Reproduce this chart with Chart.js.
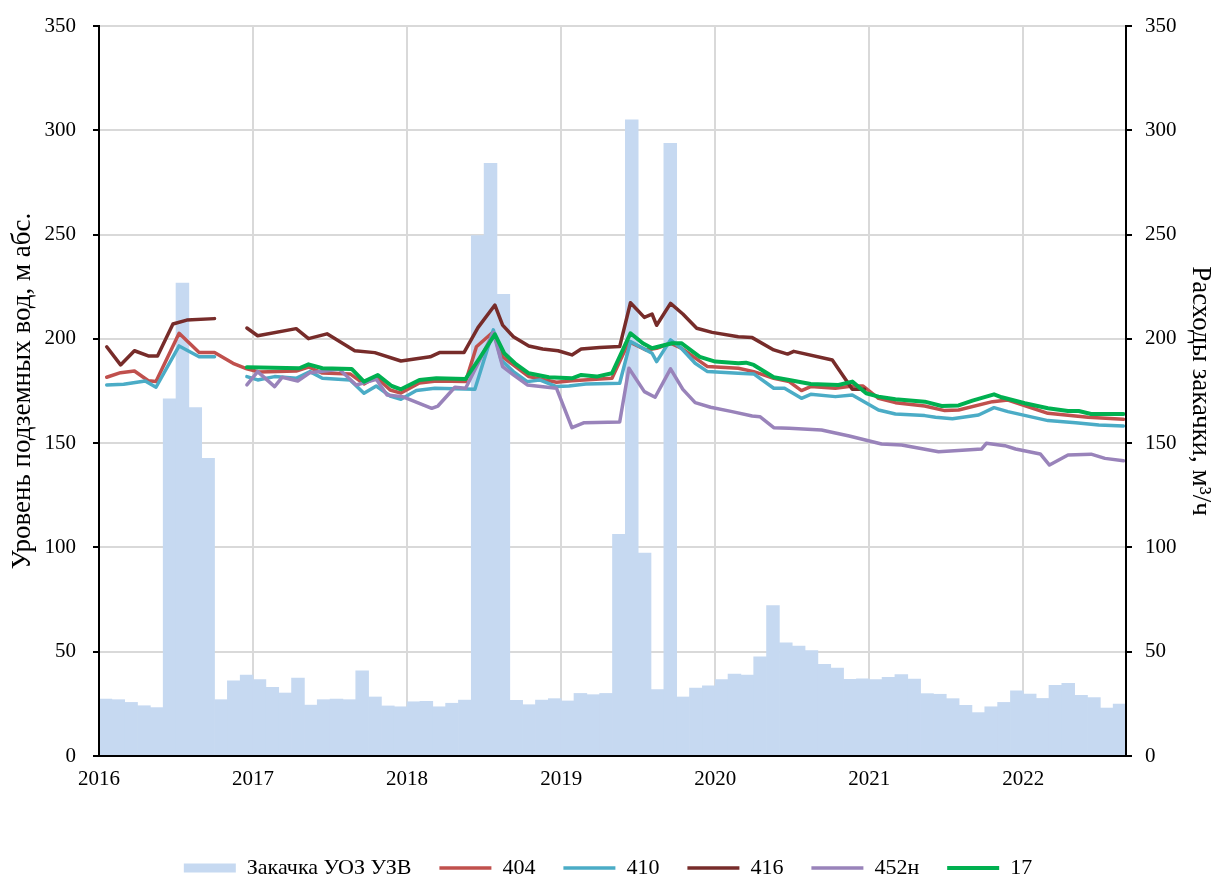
<!DOCTYPE html>
<html>
<head>
<meta charset="utf-8">
<title>Уровень подземных вод и расходы закачки</title>
<script src="https://cdn.jsdelivr.net/npm/chart.js@4/dist/chart.umd.min.js"></script>
<style>
  html, body { margin: 0; padding: 0; background: #ffffff; }
  #wrap { width: 1216px; height: 877px; }
</style>
</head>
<body>
<div id="wrap"><canvas id="chart" width="1216" height="877"></canvas></div>
<script>
// Year ticks on the time axis (decimal years)
const yearTicks = [2016, 2017, 2018, 2019, 2020, 2021, 2022];
const firstYear = 2016;
const monthCount = 80; // Jan 2016 .. Aug 2022

// Monthly injection rate, m3/h (right axis), Jan 2016 .. Aug 2022
const injection = [
  27.3, 27.0, 25.7, 24.1, 23.2, 171.2, 226.8, 167.0, 142.7, 27.0, 36.0, 38.8,
  36.6, 32.9, 30.2, 37.4, 24.4, 27.0, 27.3, 27.0, 40.8, 28.3, 24.0, 23.6,
  26.0, 26.2, 23.6, 25.3, 26.8, 249.5, 284.2, 221.4, 26.7, 24.6, 26.8, 27.5,
  26.4, 30.0, 29.4, 30.0, 106.3, 305.0, 97.3, 31.8, 293.7, 28.3, 32.6, 33.6,
  36.6, 39.3, 38.8, 47.5, 72.1, 54.2, 52.7, 50.5, 44.0, 42.2, 36.8, 37.0,
  36.6, 37.7, 39.0, 36.9, 29.9, 29.6, 27.5, 24.3, 20.8, 23.6, 25.7, 31.3,
  29.7, 27.6, 33.9, 34.8, 29.1, 28.0, 23.0, 24.9
];

// Well 404: measurement dates (decimal years) and levels, m abs.
const t404 = [2016.05, 2016.14, 2016.23, 2016.32, 2016.37, 2016.52, 2016.65, 2016.75, 2016.87, 2016.96,
  2017.04, 2017.28, 2017.36, 2017.45, 2017.63, 2017.72, 2017.80, 2017.89, 2017.96,
  2018.08, 2018.19, 2018.38, 2018.45, 2018.56, 2018.62, 2018.79, 2018.97,
  2019.07, 2019.33, 2019.44, 2019.55, 2019.62, 2019.71, 2019.78, 2019.95,
  2020.15, 2020.25, 2020.38, 2020.48, 2020.56, 2020.62, 2020.78, 2020.89, 2020.96,
  2021.06, 2021.17, 2021.36, 2021.49, 2021.58, 2021.80, 2021.90,
  2022.16, 2022.42, 2022.65];
const v404 = [181.6, 183.8, 184.6, 179.9, 179.5, 202.7, 193.5, 193.5, 188.3, 185.6,
  184.1, 184.6, 186.5, 183.6, 183.2, 178.4, 181.7, 175.5, 174.0,
  178.8, 179.8, 179.5, 196.2, 203.4, 191.4, 181.9, 179.2,
  179.9, 181.1, 198.7, 194.7, 195.5, 197.9, 195.5, 186.7,
  185.9, 184.3, 181.1, 179.5, 175.2, 177.1, 176.3, 177.4, 177.4,
  171.5, 169.4, 167.8, 165.6, 165.9, 169.9, 170.7,
  164.3, 162.4, 161.4];

// Well 410 (null = no measurements)
const t410 = [2016.05, 2016.16, 2016.30, 2016.37, 2016.52, 2016.65, 2016.75, 2016.85, 2016.96,
  2017.03, 2017.14, 2017.28, 2017.37, 2017.45, 2017.63, 2017.72, 2017.80, 2017.89, 2017.96,
  2018.06, 2018.18, 2018.44, 2018.56, 2018.61, 2018.69, 2018.78, 2018.86, 2018.97,
  2019.05, 2019.16, 2019.38, 2019.45, 2019.55, 2019.59, 2019.62, 2019.71, 2019.78, 2019.87, 2019.95,
  2020.15, 2020.25, 2020.38, 2020.45, 2020.56, 2020.62, 2020.78, 2020.89,
  2021.06, 2021.17, 2021.36, 2021.43, 2021.54, 2021.71, 2021.81, 2021.90,
  2022.16, 2022.34, 2022.49, 2022.65];
const v410 = [177.9, 178.2, 179.8, 176.8, 196.6, 191.4, 191.4, null, 181.9,
  180.3, 181.9, 181.1, 184.3, 181.1, 180.3, 173.9, 177.4, 172.6, 171.0,
  175.2, 176.3, 175.8, 204.3, 189.9, 184.3, 179.5, 180.3, 177.1,
  177.4, 178.4, 178.7, 198.7, 194.7, 193.1, 189.1, 199.5, 195.5, 188.3, 184.3,
  183.5, 183.2, 176.3, 176.3, 171.5, 173.4, 172.3, 173.1,
  165.9, 164.0, 163.2, 162.4, 161.7, 163.5, 167.0, 165.1,
  160.8, 159.8, 158.7, 158.2];

// Well 416
const t416 = [2016.05, 2016.14, 2016.23, 2016.32, 2016.38, 2016.48, 2016.57, 2016.75, 2016.85, 2016.96,
  2017.03, 2017.28, 2017.36, 2017.48, 2017.66, 2017.79, 2017.96,
  2018.15, 2018.21, 2018.37, 2018.46, 2018.57, 2018.62, 2018.69, 2018.79, 2018.88, 2018.98,
  2019.07, 2019.13, 2019.25, 2019.38, 2019.45, 2019.54, 2019.59, 2019.62, 2019.71, 2019.79, 2019.88, 2019.98,
  2020.15, 2020.24, 2020.38, 2020.47, 2020.51, 2020.76, 2020.89, 2020.97];
const v416 = [196.2, 187.5, 194.3, 191.8, 191.8, 207.1, 209.0, 209.7, null, 205.2,
  201.5, 204.9, 200.1, 202.4, 194.3, 193.4, 189.4,
  191.4, 193.4, 193.5, 205.4, 216.2, 206.6, 201.0, 196.6, 195.1, 194.3,
  192.3, 195.1, 195.8, 196.3, 217.3, 210.3, 211.9, 206.5, 217.0, 211.9, 205.1, 203.1,
  201.0, 200.6, 194.7, 192.7, 194.0, 189.9, 175.8, 175.8];

// Well 452н
const t452 = [2016.96,
  2017.03, 2017.14, 2017.19, 2017.29, 2017.37, 2017.56, 2017.67, 2017.80, 2017.87, 2017.97,
  2018.16, 2018.20, 2018.31, 2018.38, 2018.56, 2018.62, 2018.69, 2018.78, 2018.97,
  2019.07, 2019.15, 2019.38, 2019.44, 2019.54, 2019.61, 2019.71, 2019.79, 2019.87, 2019.97,
  2020.11, 2020.24, 2020.29, 2020.38, 2020.48, 2020.69, 2020.87,
  2021.08, 2021.21, 2021.45, 2021.73, 2021.76, 2021.88, 2021.95,
  2022.11, 2022.17, 2022.29, 2022.44, 2022.53, 2022.65];
const v452 = [177.9,
  184.3, 177.1, 181.6, 179.8, 183.8, 185.4, 177.9, 180.6, 173.1, 172.3,
  166.7, 167.8, 176.8, 176.3, 203.0, 186.7, 182.7, 177.9, 176.3,
  157.4, 159.8, 160.1, 185.9, 174.7, 172.0, 185.6, 175.8, 169.4, 167.2,
  165.1, 163.0, 162.7, 157.4, 157.1, 156.3, 153.4,
  149.6, 149.1, 145.9, 147.2, 149.9, 148.8, 147.2,
  144.8, 139.5, 144.3, 144.7, 142.7, 141.6];

// Well 17
const t17 = [2016.96,
  2017.30, 2017.36, 2017.45, 2017.64, 2017.72, 2017.81, 2017.90, 2017.96,
  2018.08, 2018.19, 2018.38, 2018.47, 2018.57, 2018.63, 2018.70, 2018.79, 2018.92,
  2019.07, 2019.13, 2019.23, 2019.33, 2019.45, 2019.53, 2019.59, 2019.72, 2019.78, 2019.90,
  2020.00, 2020.15, 2020.20, 2020.25, 2020.38, 2020.48, 2020.62, 2020.80, 2020.89, 2020.98,
  2021.06, 2021.17, 2021.36, 2021.47, 2021.58, 2021.67, 2021.81, 2021.86,
  2022.01, 2022.16, 2022.29, 2022.36, 2022.44, 2022.65];
const v17 = [186.4,
  185.9, 187.8, 185.9, 185.6, 179.5, 182.7, 177.4, 175.8,
  180.3, 181.1, 180.8, 190.7, 202.2, 193.1, 188.3, 183.5, 181.6,
  181.1, 182.7, 181.9, 183.5, 202.7, 197.9, 195.5, 197.9, 197.9, 191.4,
  189.1, 188.3, 188.6, 187.5, 181.6, 180.3, 178.4, 177.9, 179.5, 173.9,
  172.3, 171.0, 169.9, 167.8, 168.1, 170.4, 173.4, 172.0,
  169.1, 166.7, 165.4, 165.4, 164.0, 164.0];

const SERIF = "'Liberation Serif', 'Times New Roman', serif";
const TICK_FONT = { family: SERIF, size: 21 };
const TITLE_FONT = { family: SERIF, size: 27 };
const LEGEND_FONT = { family: SERIF, size: 22 };
const GRID = '#d9d9d9';
const AXIS = '#000000';

const pairs = (t, v) => t.map((x, i) => ({ x: x, y: v[i] }));

function well(label, t, v, color, width, order) {
  return {
    type: 'line', label: label, data: pairs(t, v), yAxisID: 'y',
    borderColor: color, backgroundColor: color, borderWidth: width,
    pointRadius: 0, pointHoverRadius: 0, tension: 0, fill: false,
    spanGaps: false, borderJoinStyle: 'round', borderCapStyle: 'round', order: order
  };
}

// Fixed axis width; the tick labels may overhang the plot edges
const fixedWidth = w => s => { s.width = w; s.paddingTop = 0; s.paddingBottom = 0; };

const datasets = [
  {
    type: 'bar', label: 'Закачка УОЗ УЗВ', yAxisID: 'y2', order: 10,
    data: injection.map((v, i) => ({ x: firstYear + (i + 0.5) / 12, y: v })),
    backgroundColor: '#c6d9f1', borderWidth: 0,
    barPercentage: 1, categoryPercentage: 1
  },
  well('404', t404, v404, '#c0504d', 3.5, 5),
  well('410', t410, v410, '#4bacc6', 3.5, 4),
  well('416', t416, v416, '#772c2a', 3.5, 3),
  well('452н', t452, v452, '#9983ba', 3.5, 2),
  well('17', t17, v17, '#00b050', 4, 1)
];

new Chart(document.getElementById('chart'), {
  type: 'bar',
  data: { datasets: datasets },
  options: {
    responsive: false,
    devicePixelRatio: 1,
    animation: false,
    layout: { padding: { top: 26, left: 0, right: 0, bottom: 0 } },
    plugins: {
      tooltip: { enabled: false },
      legend: {
        position: 'bottom',
        maxHeight: 48,
        labels: {
          font: LEGEND_FONT, color: AXIS,
          usePointStyle: true, pointStyleWidth: 52, boxHeight: 9,
          padding: 28,
          generateLabels(chart) {
            const items = Chart.defaults.plugins.legend.labels.generateLabels(chart);
            items.sort((a, b) => a.datasetIndex - b.datasetIndex);
            items.forEach(it => {
              const ds = chart.data.datasets[it.datasetIndex];
              if (ds.type === 'bar') {
                it.pointStyle = 'rect'; it.lineWidth = 0; it.fillStyle = ds.backgroundColor;
              } else {
                it.pointStyle = 'line'; it.lineWidth = ds.borderWidth;
                it.strokeStyle = ds.borderColor; it.lineCap = 'butt';
              }
            });
            return items;
          }
        }
      }
    },
    scales: {
      x: {
        type: 'linear', position: 'bottom',
        min: firstYear, max: firstYear + monthCount / 12,
        offset: false,
        afterBuildTicks: s => { s.ticks = yearTicks.map(v => ({ value: v })); },
        afterFit: s => { s.height = 73; },
        ticks: { font: TICK_FONT, color: AXIS, padding: 11, maxRotation: 0, autoSkip: false,
                 callback: v => String(v) },
        grid: { color: GRID, lineWidth: 2, drawTicks: false, offset: false },
        border: { color: AXIS, width: 2, z: 1 }
      },
      y: {
        position: 'left', min: 0, max: 350,
        afterFit: fixedWidth(99),
        ticks: { stepSize: 50, font: TICK_FONT, color: AXIS, padding: 17 },
        grid: { color: GRID, lineWidth: 2, tickColor: AXIS, tickLength: 6, tickWidth: 2 },
        border: { color: AXIS, width: 2, z: 1 },
        title: { display: true, text: 'Уровень подземных вод, м абс.', font: TITLE_FONT, color: AXIS,
                 padding: { top: 7, bottom: 0 } }
      },
      y2: {
        position: 'right', min: 0, max: 350,
        afterFit: fixedWidth(90),
        ticks: { stepSize: 50, font: TICK_FONT, color: AXIS, padding: 13 },
        grid: { drawOnChartArea: false, tickColor: AXIS, tickLength: 6, tickWidth: 2, lineWidth: 2 },
        border: { color: AXIS, width: 2, z: 1 },
        title: { display: true, text: 'Расходы закачки, м³/ч', font: TITLE_FONT, color: AXIS,
                 padding: { top: 0, bottom: 0 } }
      }
    }
  }
});
</script>
</body>
</html>
